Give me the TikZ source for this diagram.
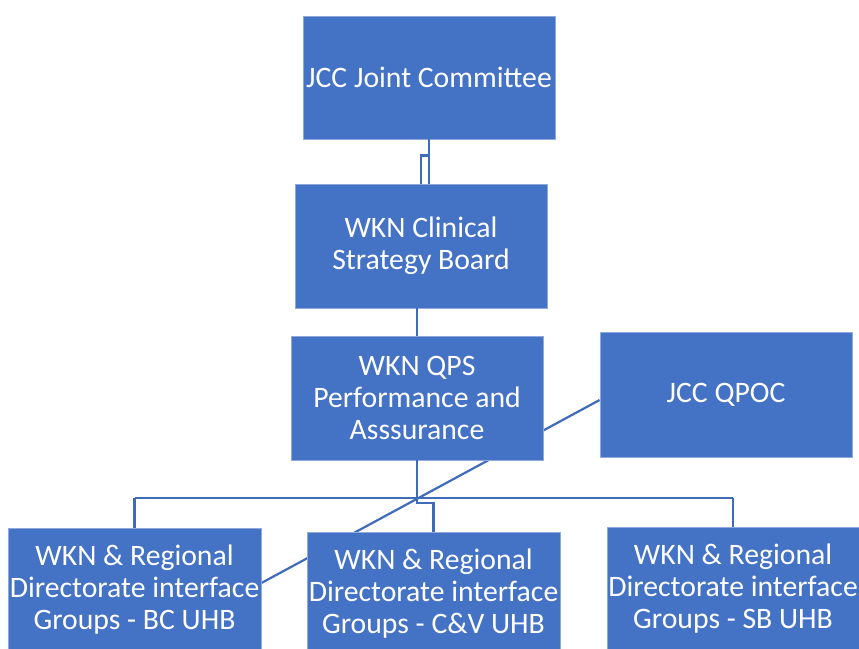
\documentclass[tikz,border=0pt]{standalone}
\usepackage{fontspec}
\setmainfont{Carlito}
\usetikzlibrary{calc, backgrounds}
\definecolor{boxblue}{HTML}{4472C4}
\definecolor{lineblue}{HTML}{3F6BBB}

\begin{document}
\begin{tikzpicture}[x=1pt, y=-1pt,
  orgbox/.style={rectangle, fill=boxblue, draw=boxblue!60!white, line width=0.8pt,
    minimum width=252pt, minimum height=124pt, inner sep=0pt, align=center,
    text=white, font=\fontsize{29.7}{32}\selectfont},
  link/.style={draw=lineblue, line width=2.2pt}]
  \useasboundingbox (0,0) rectangle (859,648); %画面
  \node[orgbox, minimum height=123pt] (jcc) at (429,77.5) {JCC Joint Committee}; %最上段
  \node[orgbox] (csb) at (421,246) {WKN Clinical\\Strategy Board};
  \node[orgbox] (qps) at (417,398) {WKN QPS\\Performance and\\Asssurance};
  \node[orgbox, minimum height=125pt] (qpoc) at (726,394.5) {JCC QPOC}; %右側
  \node[orgbox, minimum width=253pt] (bc) at (134.5,590) {WKN \& Regional\\Directorate interface\\Groups - BC UHB};
  \node[orgbox, minimum width=253pt] (cv) at (433.5,594) {WKN \& Regional\\Directorate interface\\Groups - C\&V UHB};
  \node[orgbox] (sb) at (733,589) {WKN \& Regional\\Directorate interface\\Groups - SB UHB};
  \coordinate (bus) at (417,498); %分岐点
  \coordinate (qpocL) at ($(qpoc.west)+(0,5.5)$);
  \coordinate (bcR) at ($(bc.east)+(0,-7)$);
  \begin{scope}[on background layer]
    \draw[link] (qpocL) -- (bcR); %斜め線
  \end{scope}
  \draw[link] (jcc.south) -- (jcc.south |- csb.north);
  \draw[link] ($(jcc.south)+(0,16)$) -| (csb.north);
  \draw[link] (qps.north |- csb.south) -- (qps.north);
  \draw[link] (qps.south) -- (bus);
  \draw[link] (bc.north |- bus) -- (sb.north |- bus); %横線
  \draw[link] (bc.north |- bus) -- (bc.north);
  \draw[link] (sb.north |- bus) -- (sb.north);
  \draw[link] (bus) -- ++(0,5) -| (cv.north);
\end{tikzpicture}
\end{document}
